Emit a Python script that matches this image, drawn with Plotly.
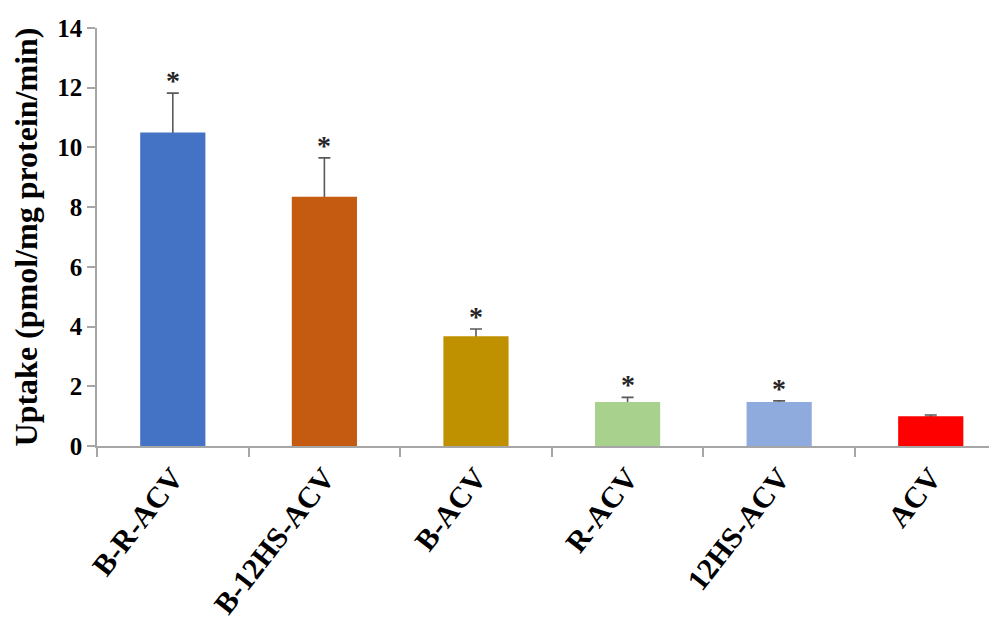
import plotly.graph_objects as go

categories = ["B-R-ACV", "B-12HS-ACV", "B-ACV", "R-ACV", "12HS-ACV", "ACV"]
uptake = [10.5, 8.35, 3.68, 1.47, 1.47, 1.0]
errors = [1.32, 1.3, 0.24, 0.16, 0.04, 0.04]
significance = ["*", "*", "*", "*", "*", ""]
colors = ["#4472C4", "#C55A11", "#BF9000", "#A9D18E", "#8FAADC", "#FF0000"]
y_ticks = [0, 2, 4, 6, 8, 10, 12, 14]

serif = "Liberation Serif, Times New Roman, serif"

fig = go.Figure()
# error bars (drawn first, lower half hidden by the coloured bars)
fig.add_trace(go.Bar(
    x=categories, y=uptake,
    marker=dict(color="rgba(0,0,0,0)", line=dict(width=0)),
    width=0.43,
    error_y=dict(type="data", array=errors,
                 color="#595959", thickness=1.6, width=6),
    showlegend=False, hoverinfo="skip",
))
fig.add_trace(go.Bar(
    x=categories, y=uptake,
    marker=dict(color=colors, line=dict(width=0)),
    width=0.43,
    showlegend=False,
))

for c, u, e, s in zip(categories, uptake, errors, significance):
    if s:
        fig.add_annotation(
            x=c, y=u + e, text="<b>" + s + "</b>", showarrow=False,
            yanchor="bottom", yshift=-5,
            font=dict(family=serif, size=28, color="#262626"),
        )

fig.update_layout(
    width=989, height=614,
    margin=dict(l=89, r=0, t=20, b=176),
    plot_bgcolor="white", paper_bgcolor="white",
    font=dict(family=serif, color="black"),
    barmode="overlay",
)
fig.update_xaxes(
    range=[-0.5, 5.437], automargin=False,
    showline=True, linecolor="#A6A6A6", linewidth=2,
    ticks="outside", tickson="boundaries", ticklen=9, tickcolor="#A6A6A6", tickwidth=1.5,
    tickangle=-52,
    tickfont=dict(family=serif, size=30, color="black", weight="bold"),
    showgrid=False, zeroline=False,
)
fig.update_yaxes(
    range=[0, 14], tickvals=y_ticks, automargin=False,
    showline=True, linecolor="#A6A6A6", linewidth=1.5,
    ticks="outside", ticklen=8, tickcolor="#A6A6A6", tickwidth=1.5,
    tickfont=dict(family=serif, size=25, color="black", weight="bold"),
    title=dict(text="<b>Uptake (pmol/mg protein/min)</b>",
               font=dict(family=serif, size=32, color="black"), standoff=11),
    showgrid=False, zeroline=False,
)

fig.write_html("out.html")
